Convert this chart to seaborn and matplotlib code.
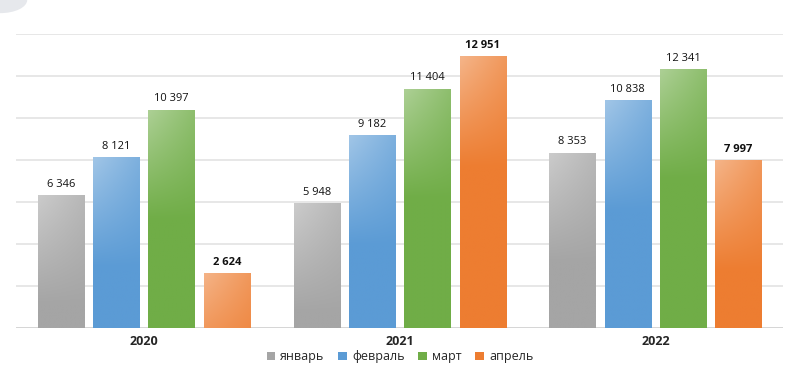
import numpy as np
import pandas as pd
import matplotlib
matplotlib.use("Agg")
import matplotlib.pyplot as plt
import matplotlib.colors as mcolors
from matplotlib.patches import Patch, Circle
import seaborn as sns

# Data
years = ["2020", "2021", "2022"]
months = ["январь", "февраль", "март", "апрель"]
jan = [6346, 5948, 8353]
feb = [8121, 9182, 10838]
mar = [10397, 11404, 12341]
apr = [2624, 12951, 7997]
colors = ["#a5a5a5", "#5b9bd5", "#70ad47", "#ed7d31"]

df = pd.DataFrame({
    "year": years * 4,
    "month": [m for m in months for _ in years],
    "value": jan + feb + mar + apr,
})

sns.set_style("white")
plt.rcParams["font.family"] = ["Open Sans", "DejaVu Sans"]

fig = plt.figure(figsize=(8, 3.87), dpi=100)
ax = fig.add_axes([0.02, 0.1525, 0.959, 0.7595])

sns.barplot(data=df, x="year", y="value", hue="month", order=years,
            hue_order=months, palette=colors, width=0.865, gap=0.167,
            legend=False, ax=ax, zorder=3)

ax.set_ylim(0, 14000)
ax.set_xlim(-0.5, 2.5)
ax.set_yticks(np.arange(0, 14001, 2000))
ax.yaxis.grid(True, color="#e3e3e3", linewidth=1.2, zorder=0)
ax.set_yticklabels([])
ax.tick_params(axis="y", length=0)
ax.tick_params(axis="x", length=0, pad=5)
for lbl in ax.get_xticklabels():
    lbl.set_fontweight("bold")
    lbl.set_fontsize(9)
ax.set_xlabel("")
ax.set_ylabel("")
for s in ax.spines.values():
    s.set_visible(False)
ax.axhline(0, color="#d6d6d6", linewidth=1.4, zorder=2)

# gradient fill on bars: lighter upper-left, full colour lower part
ny, nx = 60, 20
yy, xx = np.mgrid[0:1:ny * 1j, 0:1:nx * 1j]
for i, patch in enumerate(ax.patches):
    col = np.array(mcolors.to_rgb(colors[i // 3]))
    x0, y0 = patch.get_x(), patch.get_y()
    w, h = patch.get_width(), patch.get_height()
    hpx = h / 14000 * 294
    fade = np.clip(1 - (1 - yy) * hpx / 110, 0, 1)
    t = 0.42 * fade * (1 - 0.5 * xx)
    img = col[None, None, :] * (1 - t[..., None]) + t[..., None]
    im = ax.imshow(img, extent=[x0, x0 + w, y0, y0 + h], origin="lower",
                   aspect="auto", zorder=4, interpolation="bilinear")
    im.set_clip_path(patch)
    patch.set_edgecolor("none")

# value labels
for i, patch in enumerate(ax.patches):
    val = df["value"].iloc[i]
    bold = (i // 3) == 3
    ax.text(patch.get_x() + patch.get_width() / 2, patch.get_height() + 250,
            f"{val:,}".replace(",", " "), ha="center", va="bottom",
            fontsize=8, fontweight="bold" if bold else "normal",
            color="#111111", zorder=5)
ax.set_xlim(-0.5, 2.5)
ax.set_ylim(0, 14000)

handles = [Patch(facecolor=c, edgecolor="none") for c in colors]
fig.legend(handles, months, loc="center", bbox_to_anchor=(0.5, 0.078),
           ncol=4, frameon=False, fontsize=9, handlelength=0.7,
           handleheight=0.7, handletextpad=0.4, columnspacing=1.1)

# partial grey disc in the top-left corner
fig.patches.append(Circle((0.0, 1.0), 0.034, transform=fig.transFigure,
                          facecolor="#e6e8ec", edgecolor="none"))

fig.savefig("out.png", dpi=100)
